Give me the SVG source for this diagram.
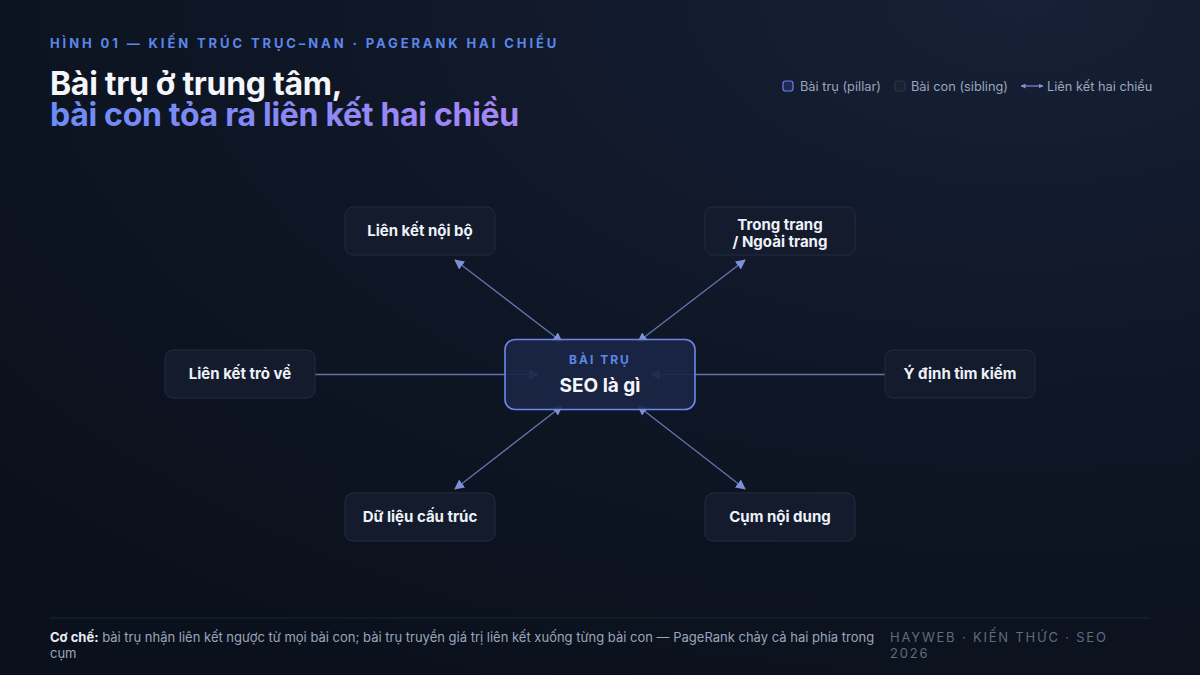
<svg xmlns="http://www.w3.org/2000/svg" width="1200" height="675" viewBox="0 0 1200 675">
<defs>
<radialGradient id="bg" cx="0.85" cy="0" r="1.1">
<stop offset="0" stop-color="#162036"/>
<stop offset="0.6" stop-color="#0e1524"/>
<stop offset="1" stop-color="#0b111c"/>
</radialGradient>
<linearGradient id="tg" x1="50" y1="0" x2="520" y2="0" gradientUnits="userSpaceOnUse">
<stop offset="0" stop-color="#6b8cf6"/>
<stop offset="1" stop-color="#a886f6"/>
</linearGradient>
<marker id="ah" viewBox="0 0 10 10" refX="9" refY="5" markerWidth="10" markerHeight="10" markerUnits="userSpaceOnUse" orient="auto-start-reverse">
<path d="M0,0 L10,5 L0,10 z" fill="#7d90d6"/>
</marker>
<marker id="lh" viewBox="0 0 10 10" refX="9" refY="5" markerWidth="5" markerHeight="5" markerUnits="userSpaceOnUse" orient="auto-start-reverse">
<path d="M0,0 L10,5 L0,10 z" fill="#7d90d6"/>
</marker>
</defs>
<style>
.sans{font-family:Inter,"Noto Sans","Liberation Sans",sans-serif}
.node rect{fill:#131b2d;stroke:#222c42;stroke-width:1}
.node text{font-family:Inter,"Noto Sans","Liberation Sans",sans-serif;font-weight:700;font-size:15px;fill:#eef2f8;text-anchor:middle}
.conn line{stroke:#7186c4;stroke-width:1.3;stroke-opacity:0.85}
.leg{font-family:Inter,"Noto Sans","Liberation Sans",sans-serif;font-size:12.8px;fill:#9aa6bb}
</style>
<rect width="1200" height="675" fill="url(#bg)"/>

<text class="sans" x="50" y="48" font-size="13" font-weight="700" letter-spacing="2.9" fill="#5b87e8">HÌNH 01 — KIẾN TRÚC TRỤC–NAN · PAGERANK HAI CHIỀU</text>
<text class="sans" x="50" y="95" font-size="32" font-weight="700" letter-spacing="-0.3" fill="#f4f6fa">Bài trụ ở trung tâm,</text>
<text class="sans" x="50" y="126" font-size="32" font-weight="700" letter-spacing="-0.3" fill="url(#tg)">bài con tỏa ra liên kết hai chiều</text>

<g id="legend">
<rect x="783" y="81" width="10" height="10" rx="2.5" fill="#1f2a52" stroke="#6b7fe8" stroke-width="1.2"/>
<text class="leg" x="800" y="91">Bài trụ (pillar)</text>
<rect x="895" y="81" width="10" height="10" rx="2.5" fill="#1a2234" stroke="#2a3448" stroke-width="1.2"/>
<text class="leg" x="911" y="91">Bài con (sibling)</text>
<line x1="1021" y1="86" x2="1043" y2="86" stroke="#7186c4" stroke-width="1.3" marker-start="url(#lh)" marker-end="url(#lh)"/>
<text class="leg" x="1047" y="91">Liên kết hai chiều</text>
</g>

<g id="connectors" class="conn">
<line x1="455" y1="260" x2="562" y2="342" marker-start="url(#ah)" marker-end="url(#ah)"/>
<line x1="745" y1="260" x2="638" y2="342" marker-start="url(#ah)" marker-end="url(#ah)"/>
<line x1="455" y1="489" x2="562" y2="406" marker-start="url(#ah)" marker-end="url(#ah)"/>
<line x1="745" y1="489" x2="638" y2="406" marker-start="url(#ah)" marker-end="url(#ah)"/>
<line x1="315" y1="374.5" x2="538" y2="374.5" marker-end="url(#ah)"/>
<line x1="885" y1="374.5" x2="651" y2="374.5" marker-end="url(#ah)"/>
</g>

<g id="pillar">
<rect x="505" y="339.5" width="190" height="70" rx="10" fill="#1a2545" fill-opacity="0.92" stroke="#6f87ea" stroke-width="1.6"/>
<text class="sans" x="600" y="364" font-size="12" font-weight="700" letter-spacing="2" fill="#5b87e8" text-anchor="middle">BÀI TRỤ</text>
<text class="sans" x="600" y="392" font-size="19" font-weight="700" fill="#f4f6fa" text-anchor="middle">SEO là gì</text>
</g>

<g id="n-noibo" class="node"><rect x="345" y="207" width="150" height="48" rx="8"/><text x="420" y="236">Liên kết nội bộ</text></g>
<g id="n-trongngoai" class="node"><rect x="705" y="207" width="150" height="48" rx="8"/><text x="780" y="230">Trong trang</text><text x="780" y="247">/ Ngoài trang</text></g>
<g id="n-trove" class="node"><rect x="165" y="350" width="150" height="48" rx="8"/><text x="240" y="379">Liên kết trỏ về</text></g>
<g id="n-ydinh" class="node"><rect x="885" y="350" width="150" height="48" rx="8"/><text x="960" y="379">Ý định tìm kiếm</text></g>
<g id="n-dulieu" class="node"><rect x="345" y="493" width="150" height="48" rx="8"/><text x="420" y="522">Dữ liệu cấu trúc</text></g>
<g id="n-cum" class="node"><rect x="705" y="493" width="150" height="48" rx="8"/><text x="780" y="522">Cụm nội dung</text></g>

<g id="footer">
<line x1="50" y1="618" x2="1150" y2="618" stroke="#1c2638" stroke-width="1"/>
<text class="sans" x="50" y="642" font-size="13" fill="#9aa6bb"><tspan font-weight="700" fill="#e8edf5">Cơ chế:</tspan> bài trụ nhận liên kết ngược từ mọi bài con; bài trụ truyền giá trị liên kết xuống từng bài con — PageRank chảy cả hai phía trong</text>
<text class="sans" x="50" y="658" font-size="13" fill="#9aa6bb">cụm</text>
<text class="sans" x="890" y="642" font-size="13" letter-spacing="1.8" fill="#5f6b80">HAYWEB · KIẾN THỨC · SEO</text>
<text class="sans" x="890" y="658" font-size="13" letter-spacing="1.8" fill="#5f6b80">2026</text>
</g>
</svg>
